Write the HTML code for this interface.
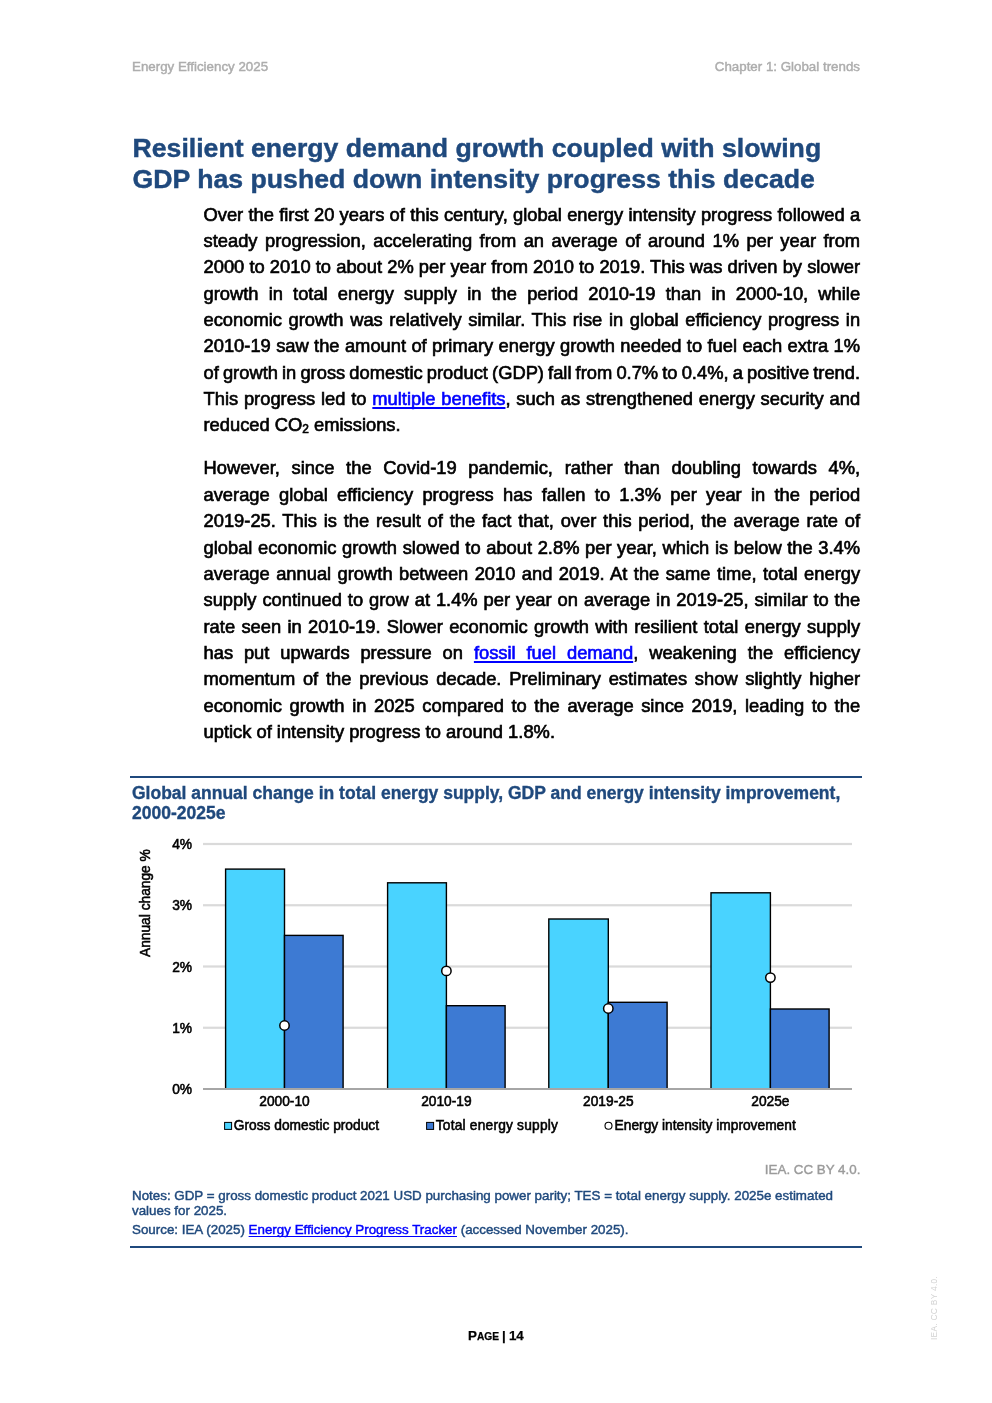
<!DOCTYPE html>
<html>
<head>
<meta charset="utf-8">
<title>Energy Efficiency 2025 - Page 14</title>
<style>
html,body{margin:0;padding:0;background:#fff;}
body{width:992px;height:1403px;position:relative;overflow:hidden;font-family:"Liberation Sans",sans-serif;color:#000;}
.abs{position:absolute;white-space:nowrap;}
.hdr{font-size:13.33px;color:#adadad;top:59px;line-height:15px;-webkit-text-stroke:0.45px #adadad;}
h1{position:absolute;left:132.5px;top:132.7px;-webkit-text-stroke:0.45px #1f497d;margin:0;font-size:26.67px;line-height:31.3px;font-weight:bold;color:#1f497d;white-space:nowrap;}
.ln{position:absolute;left:203.5px;width:656.6px;font-size:18.33px;line-height:22px;height:22px;white-space:nowrap;-webkit-text-stroke:0.65px #000;}
.ln sub{font-size:0.65em;vertical-align:baseline;position:relative;top:0.2em;}
.ct{stroke:#000;stroke-width:0.55px;}
.ln a{color:#0000ff;text-decoration:underline;text-decoration-thickness:1.9px;text-underline-offset:2.3px;text-decoration-skip-ink:none;-webkit-text-stroke:0.65px #0000ff;}
.rule{position:absolute;left:130px;width:732px;height:2px;background:#1f497d;}
.ftitle{position:absolute;left:132px;top:783px;font-size:17.5px;line-height:20.2px;font-weight:bold;color:#1f497d;-webkit-text-stroke:0.35px #1f497d;white-space:nowrap;}
.note{position:absolute;left:132px;font-size:13.37px;line-height:14px;color:#1f497d;white-space:nowrap;-webkit-text-stroke:0.45px #1f497d;}
.note a{color:#0000ff;text-decoration:underline;text-decoration-thickness:1.3px;text-underline-offset:1.5px;text-decoration-skip-ink:none;-webkit-text-stroke:0.45px #0000ff;}
</style>
</head>
<body>
<div id="pg" style="position:absolute;left:0;top:0;width:992px;height:1403px;will-change:transform;">
<div class="abs hdr" style="left:132px;">Energy Efficiency 2025</div>
<div class="abs hdr" style="right:132px;">Chapter 1: Global trends</div>

<h1>Resilient energy demand growth coupled with slowing<br>GDP has pushed down intensity progress this decade</h1>

<div class="ln" style="top:204.00px;word-spacing:0.146px;">Over the first 20 years of this century, global energy intensity progress followed a</div>
<div class="ln" style="top:230.00px;word-spacing:2.361px;">steady progression, accelerating from an average of around 1% per year from</div>
<div class="ln" style="top:256.00px;word-spacing:0.050px;">2000 to 2010 to about 2% per year from 2010 to 2019. This was driven by slower</div>
<div class="ln" style="top:283.00px;word-spacing:5.045px;">growth in total energy supply in the period 2010-19 than in 2000-10, while</div>
<div class="ln" style="top:309.00px;word-spacing:1.503px;">economic growth was relatively similar. This rise in global efficiency progress in</div>
<div class="ln" style="top:335.00px;word-spacing:0.271px;">2010-19 saw the amount of primary energy growth needed to fuel each extra 1%</div>
<div class="ln" style="top:362.00px;word-spacing:-0.978px;">of growth in gross domestic product (GDP) fall from 0.7% to 0.4%, a positive trend.</div>
<div class="ln" style="top:388.00px;word-spacing:0.692px;">This progress led to <a>multiple benefits</a>, such as strengthened energy security and</div>
<div class="ln" style="top:414.00px;word-spacing:0.000px;">reduced CO<sub>2</sub> emissions.</div>
<div class="ln" style="top:457.00px;word-spacing:6.619px;">However, since the Covid-19 pandemic, rather than doubling towards 4%,</div>
<div class="ln" style="top:484.00px;word-spacing:4.141px;">average global efficiency progress has fallen to 1.3% per year in the period</div>
<div class="ln" style="top:510.00px;word-spacing:1.685px;">2019-25. This is the result of the fact that, over this period, the average rate of</div>
<div class="ln" style="top:537.00px;word-spacing:0.506px;">global economic growth slowed to about 2.8% per year, which is below the 3.4%</div>
<div class="ln" style="top:563.00px;word-spacing:1.308px;">average annual growth between 2010 and 2019. At the same time, total energy</div>
<div class="ln" style="top:589.00px;word-spacing:0.834px;">supply continued to grow at 1.4% per year on average in 2019-25, similar to the</div>
<div class="ln" style="top:616.00px;word-spacing:1.249px;">rate seen in 2010-19. Slower economic growth with resilient total energy supply</div>
<div class="ln" style="top:642.00px;word-spacing:5.783px;">has put upwards pressure on <a>fossil fuel demand</a>, weakening the efficiency</div>
<div class="ln" style="top:668.00px;word-spacing:2.666px;">momentum of the previous decade. Preliminary estimates show slightly higher</div>
<div class="ln" style="top:695.00px;word-spacing:2.498px;">economic growth in 2025 compared to the average since 2019, leading to the</div>
<div class="ln" style="top:721.00px;word-spacing:0.000px;">uptick of intensity progress to around 1.8%.</div>

<div class="rule" style="top:776px;"></div>
<div class="ftitle">Global annual change in total energy supply, GDP and energy intensity improvement,<br>2000-2025e</div>

<svg id="chart" width="992" height="340" viewBox="0 830 992 340" style="position:absolute;left:0;top:830px;" font-family="Liberation Sans, sans-serif" font-size="13.75">
<rect x="203" y="1026.65" width="649" height="2.2" fill="#dadada"/>
<rect x="203" y="965.40" width="649" height="2.2" fill="#dadada"/>
<rect x="203" y="904.15" width="649" height="2.2" fill="#dadada"/>
<rect x="203" y="842.90" width="649" height="2.2" fill="#dadada"/>
<rect x="225.6" y="869.1" width="58.9" height="219.9" fill="#49d3ff" stroke="#000" stroke-width="1.4"/>
<rect x="284.5" y="935.4" width="58.6" height="153.6" fill="#3d7ad3" stroke="#000" stroke-width="1.4"/>
<rect x="387.6" y="882.8" width="58.8" height="206.2" fill="#49d3ff" stroke="#000" stroke-width="1.4"/>
<rect x="446.4" y="1005.7" width="58.7" height="83.3" fill="#3d7ad3" stroke="#000" stroke-width="1.4"/>
<rect x="548.8" y="919.0" width="59.5" height="170.0" fill="#49d3ff" stroke="#000" stroke-width="1.4"/>
<rect x="608.3" y="1002.3" width="58.8" height="86.7" fill="#3d7ad3" stroke="#000" stroke-width="1.4"/>
<rect x="711.0" y="892.8" width="59.4" height="196.2" fill="#49d3ff" stroke="#000" stroke-width="1.4"/>
<rect x="770.4" y="1009.0" width="58.7" height="80.0" fill="#3d7ad3" stroke="#000" stroke-width="1.4"/>
<rect x="203" y="1088.0" width="649" height="2" fill="#a6a6a6"/>
<circle cx="284.5" cy="1025.5" r="4.7" fill="#fff" stroke="#000" stroke-width="1.5"/>
<text x="284.5" y="1106.3" text-anchor="middle" class="ct">2000-10</text>
<circle cx="446.4" cy="970.9" r="4.7" fill="#fff" stroke="#000" stroke-width="1.5"/>
<text x="446.4" y="1106.3" text-anchor="middle" class="ct">2010-19</text>
<circle cx="608.3" cy="1008.5" r="4.7" fill="#fff" stroke="#000" stroke-width="1.5"/>
<text x="608.3" y="1106.3" text-anchor="middle" class="ct">2019-25</text>
<circle cx="770.4" cy="977.6" r="4.7" fill="#fff" stroke="#000" stroke-width="1.5"/>
<text x="770.4" y="1106.3" text-anchor="middle" class="ct">2025e</text>
<text x="192" y="1094.0" text-anchor="end" class="ct">0%</text>
<text x="192" y="1032.8" text-anchor="end" class="ct">1%</text>
<text x="192" y="971.5" text-anchor="end" class="ct">2%</text>
<text x="192" y="910.2" text-anchor="end" class="ct">3%</text>
<text x="192" y="849.0" text-anchor="end" class="ct">4%</text>
<text transform="translate(150.3,957) rotate(-90)" class="ct">Annual change %</text>
<rect x="224.6" y="1122.4" width="7" height="7" fill="#49d3ff" stroke="#000" stroke-width="1"/>
<text x="233.8" y="1130.4" class="ct">Gross domestic product</text>
<rect x="426.6" y="1122.4" width="7" height="7" fill="#3d7ad3" stroke="#000" stroke-width="1"/>
<text x="435.8" y="1130.4" class="ct" letter-spacing="0.2">Total energy supply</text>
<circle cx="608.5" cy="1125.8" r="3.5" fill="#fff" stroke="#000" stroke-width="1.1"/>
<text x="614.6" y="1130.4" class="ct">Energy intensity improvement</text>
</svg>

<div class="abs" style="right:131.6px;top:1161.6px;font-size:13.37px;line-height:16px;color:#9b9b9b;-webkit-text-stroke:0.4px #9b9b9b;">IEA. CC BY 4.0.</div>
<div class="note" style="top:1188.7px;">Notes: GDP = gross domestic product 2021 USD purchasing power parity; TES = total energy supply. 2025e estimated</div>
<div class="note" style="top:1203.8px;">values for 2025.</div>
<div class="note" style="top:1223px;">Source: IEA (2025) <a>Energy Efficiency Progress Tracker</a> (accessed November 2025).</div>
<div class="rule" style="top:1246px;"></div>

<div class="abs" id="pageno" style="left:468px;top:1329px;font-size:13.33px;line-height:14px;font-weight:bold;-webkit-text-stroke:0.25px #000;word-spacing:-0.6px;">P<span style="font-size:10.2px;">AGE</span> | 14</div>
<div class="abs" style="left:930.2px;top:1339.9px;font-size:8.33px;line-height:8px;color:#d2d2d2;transform-origin:0 0;transform:rotate(-90deg);letter-spacing:0.3px;">IEA. CC BY 4.0.</div>
</div>
</body>
</html>
